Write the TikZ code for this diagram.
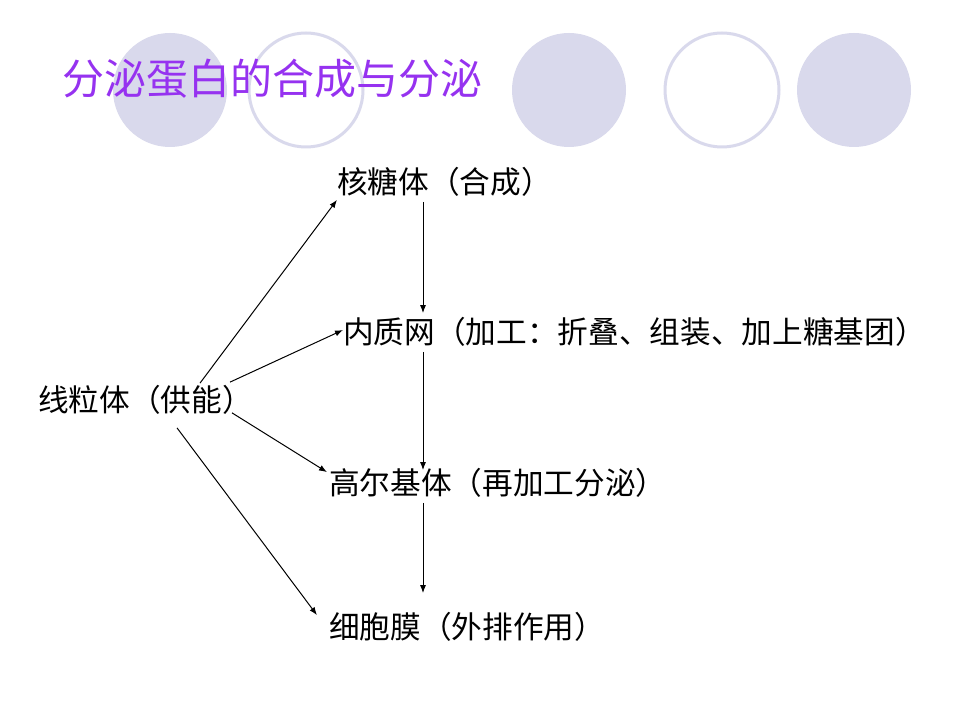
\documentclass[tikz,border=0pt]{standalone}
\usepackage{fontspec}
\newfontfamily\cjk{Noto Sans CJK SC}
\usetikzlibrary{arrows.meta,calc}
\definecolor{lav}{RGB}{217,217,236}
\definecolor{ttl}{RGB}{150,50,240}
\begin{document}
\begin{tikzpicture}[x=0.75pt,y=-0.75pt,
  dot/.style={fill=lav,draw=none},
  ring/.style={draw=lav,line width=2.25pt,fill=white},
  lbl/.style={anchor=west,inner sep=0pt,font=\cjk\fontsize{23pt}{23pt}\selectfont},
  arr/.style={line width=0.75pt,-{Latex[length=6pt,width=4.5pt]}}]
\useasboundingbox (0,0) rectangle (960,720);
\fill[white] (0,0) rectangle (960,720);
% decorative circles
\path[dot] (170,90) circle (57);
\path[ring] (306,90) circle (57);
\path[dot] (569,90) circle (57);
\path[ring] (722,90) circle (57);
\path[dot] (854,90) circle (57);
% title
\node[anchor=west,inner sep=0pt,text=ttl,font=\cjk\fontsize{31.5pt}{31.5pt}\selectfont] (title) at (62,79) {分泌蛋白的合成与分泌};
% nodes
\node[lbl] (xl) at (38,400) {线粒体（供能）};
\node[lbl] (ht) at (337,182) {核糖体（合成）};
\node[lbl] (nz) at (343,332) {内质网（加工：折叠、组装、加上糖基团）};
\node[lbl] (gej) at (329,483) {高尔基体（再加工分泌）};
\node[lbl] (xbm) at (329,627) {细胞膜（外排作用）};
% arrows from mitochondria
\draw[arr] ($(xl.north west)+(162,-2)$) -- ($(ht.south west)+(0,3)$);
\draw[arr] ($(xl.north west)+(192,-3)$) -- ($(nz.west)+(0,-2)$);
\draw[arr] ($(xl.south west)+(194,-2)$) -- ($(gej.north west)+(-2,4)$);
\draw[arr] ($(xl.south west)+(139,13)$) -- ($(xbm.north west)+(-12,3)$);
% vertical chain
\draw[arr] ($(ht.south west)+(86,5)$) -- ($(nz.north west)+(80,-4)$);
\draw[arr] ($(nz.south west)+(80,5)$) -- ($(gej.north west)+(94,2)$);
\draw[arr] ($(gej.south west)+(94,5)$) -- ($(xbm.north west)+(94,-19)$);
\end{tikzpicture}
\end{document}
